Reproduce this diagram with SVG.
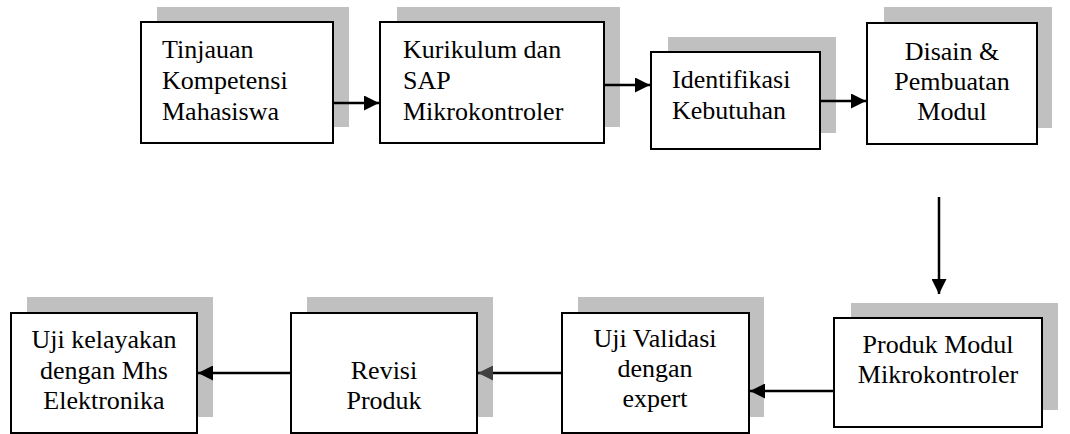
<svg xmlns="http://www.w3.org/2000/svg" width="1070" height="434" viewBox="0 0 1070 434">
  <style>
    .shadow { fill: #c0c0c0; }
    .box { fill: #ffffff; stroke: #000000; stroke-width: 2; }
    .label { font-size: 26px; fill: #000000; }
    .mid { text-anchor: middle; }
    .link { fill: none; stroke: #000000; stroke-width: 2.5; }
  </style>
  <defs>
    <marker id="head" markerUnits="userSpaceOnUse" markerWidth="15" markerHeight="15" refX="15" refY="7.5" orient="auto">
      <path d="M0,0 L15,7.5 L0,15 Z" fill="#000000"/>
    </marker>
    <marker id="head-grey" markerUnits="userSpaceOnUse" markerWidth="15" markerHeight="15" refX="15" refY="7.5" orient="auto">
      <path d="M0,0 L15,7.5 L0,15 Z" fill="#404040"/>
    </marker>
  </defs>

  <g font-family="Liberation Serif, Tinos, Times New Roman, DejaVu Serif, serif">
  <!-- top row -->
  <g id="tinjauan">
    <rect class="shadow" x="157" y="7" width="192" height="120"/>
    <rect class="box" x="141" y="22" width="192" height="121"/>
    <text class="label" x="162" y="58">Tinjauan</text>
    <text class="label" x="162" y="89">Kompetensi</text>
    <text class="label" x="162" y="120">Mahasiswa</text>
  </g>

  <g id="kurikulum">
    <rect class="shadow" x="397" y="7" width="223" height="120"/>
    <rect class="box" x="380" y="22" width="224" height="121"/>
    <text class="label" x="403" y="58">Kurikulum dan</text>
    <text class="label" x="403" y="89">SAP</text>
    <text class="label" x="403" y="120">Mikrokontroler</text>
  </g>

  <g id="identifikasi">
    <rect class="shadow" x="668" y="37" width="168" height="96"/>
    <rect class="box" x="651" y="52" width="169" height="97"/>
    <text class="label" x="672" y="88">Identifikasi</text>
    <text class="label" x="672" y="119">Kebutuhan</text>
  </g>

  <g id="disain">
    <rect class="shadow" x="884" y="7" width="168" height="121"/>
    <rect class="box" x="867" y="23" width="170" height="121"/>
    <text class="label mid" x="952" y="60">Disain &amp;</text>
    <text class="label mid" x="952" y="90">Pembuatan</text>
    <text class="label mid" x="952" y="120">Modul</text>
  </g>

  <!-- bottom row -->
  <g id="produk-modul">
    <rect class="shadow" x="851" y="303" width="207" height="107"/>
    <rect class="box" x="834" y="318" width="208" height="109"/>
    <text class="label mid" x="938" y="353">Produk Modul</text>
    <text class="label mid" x="938" y="383">Mikrokontroler</text>
  </g>

  <g id="uji-validasi">
    <rect class="shadow" x="578" y="297" width="186" height="120"/>
    <rect class="box" x="562" y="313" width="187" height="120"/>
    <text class="label mid" x="655" y="347">Uji Validasi</text>
    <text class="label mid" x="655" y="377">dengan</text>
    <text class="label mid" x="655" y="407">expert</text>
  </g>

  <g id="revisi">
    <rect class="shadow" x="307" y="297" width="186" height="120"/>
    <rect class="box" x="291" y="313" width="186" height="120"/>
    <text class="label mid" x="384" y="379">Revisi</text>
    <text class="label mid" x="384" y="409">Produk</text>
  </g>

  <g id="uji-kelayakan">
    <rect class="shadow" x="27" y="297" width="186" height="120"/>
    <rect class="box" x="11" y="313" width="186" height="120"/>
    <text class="label mid" x="104" y="348">Uji kelayakan</text>
    <text class="label mid" x="104" y="379">dengan Mhs</text>
    <text class="label mid" x="104" y="409">Elektronika</text>
  </g>
  </g>

  <!-- connectors -->
  <g id="connectors">
    <line class="link" x1="333" y1="103" x2="379" y2="103" marker-end="url(#head)"/>
    <line class="link" x1="604" y1="85" x2="650" y2="85" marker-end="url(#head)"/>
    <line class="link" x1="820" y1="101" x2="866" y2="101" marker-end="url(#head)"/>
    <line class="link" x1="939" y1="197" x2="939" y2="294" marker-end="url(#head)"/>
    <line class="link" x1="834" y1="391" x2="750" y2="391" marker-end="url(#head)"/>
    <line class="link" x1="562" y1="373" x2="478" y2="373" marker-end="url(#head-grey)"/>
    <line class="link" x1="291" y1="373" x2="198" y2="373" marker-end="url(#head)"/>
  </g>
</svg>
